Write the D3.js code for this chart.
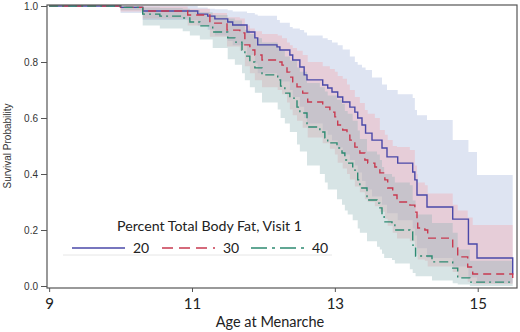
<!DOCTYPE html>
<html>
<head>
<meta charset="utf-8">
<script src="https://cdn.jsdelivr.net/npm/d3@7"></script>
<style>
  body { margin: 0; background: #fff; }
  svg { display: block; }
</style>
</head>
<body>
<div id="chart"></div>
<script>
// Kaplan-Meier style survival curves
const ages20 = [9, 10.0, 10.31, 11.08, 11.22, 11.32, 11.50, 11.57, 11.77, 11.88, 11.92, 12.19, 12.23, 12.37, 12.41, 12.51, 12.57, 12.61, 12.83, 12.90, 12.96, 13.04, 13.11, 13.21, 13.28, 13.32, 13.38, 13.43, 13.52, 13.66, 13.73, 13.88, 14.09, 14.12, 14.15, 14.29, 14.65, 14.87, 14.99, 15.49];
const surv20 = [1.0, 0.995, 0.982, 0.971, 0.964, 0.954, 0.943, 0.932, 0.907, 0.886, 0.861, 0.854, 0.843, 0.825, 0.807, 0.782, 0.754, 0.736, 0.718, 0.707, 0.693, 0.675, 0.657, 0.639, 0.621, 0.60, 0.575, 0.546, 0.521, 0.493, 0.461, 0.439, 0.407, 0.379, 0.325, 0.282, 0.239, 0.15, 0.10, 0.04];
const upper20 = [1.0, 1.0, 1.0, 0.995, 0.99, 0.988, 0.985, 0.98, 0.975, 0.97, 0.965, 0.95, 0.94, 0.925, 0.92, 0.914, 0.905, 0.895, 0.885, 0.879, 0.87, 0.86, 0.845, 0.82, 0.80, 0.79, 0.78, 0.771, 0.745, 0.72, 0.70, 0.685, 0.671, 0.629, 0.61, 0.593, 0.521, 0.479, 0.396, 0.396];
const lower20 = [1.0, 0.975, 0.95, 0.93, 0.915, 0.895, 0.875, 0.86, 0.825, 0.795, 0.76, 0.745, 0.73, 0.70, 0.675, 0.64, 0.60, 0.58, 0.555, 0.54, 0.52, 0.495, 0.47, 0.45, 0.43, 0.405, 0.375, 0.345, 0.32, 0.29, 0.26, 0.235, 0.205, 0.18, 0.135, 0.10, 0.07, 0.03, 0.012, 0.002];

const ages30 = [9, 10.0, 10.31, 10.94, 11.25, 11.49, 11.67, 11.74, 11.81, 11.88, 11.98, 12.20, 12.26, 12.33, 12.37, 12.41, 12.47, 12.55, 12.62, 12.83, 12.93, 13.00, 13.04, 13.11, 13.17, 13.21, 13.28, 13.35, 13.42, 13.46, 13.56, 13.63, 13.70, 13.74, 13.81, 13.87, 14.05, 14.12, 14.15, 14.16, 14.26, 14.30, 14.65, 14.72, 14.86, 14.93, 15.49];
const surv30 = [1.0, 0.995, 0.982, 0.968, 0.939, 0.914, 0.904, 0.861, 0.843, 0.825, 0.807, 0.80, 0.789, 0.764, 0.746, 0.729, 0.711, 0.689, 0.657, 0.639, 0.621, 0.604, 0.575, 0.557, 0.539, 0.521, 0.496, 0.475, 0.45, 0.439, 0.425, 0.404, 0.379, 0.35, 0.325, 0.30, 0.289, 0.264, 0.236, 0.207, 0.20, 0.171, 0.136, 0.104, 0.068, 0.043, 0.029];
const upper30 = [1.0, 1.0, 0.998, 0.99, 0.975, 0.96, 0.955, 0.93, 0.92, 0.91, 0.90, 0.895, 0.885, 0.87, 0.86, 0.85, 0.84, 0.825, 0.80, 0.785, 0.775, 0.765, 0.75, 0.74, 0.72, 0.70, 0.675, 0.654, 0.629, 0.615, 0.60, 0.557, 0.54, 0.521, 0.50, 0.496, 0.486, 0.43, 0.40, 0.37, 0.36, 0.33, 0.29, 0.27, 0.245, 0.218, 0.218];
const lower30 = [1.0, 0.98, 0.955, 0.93, 0.89, 0.855, 0.84, 0.785, 0.76, 0.735, 0.71, 0.70, 0.685, 0.655, 0.63, 0.61, 0.59, 0.565, 0.53, 0.51, 0.49, 0.47, 0.44, 0.42, 0.40, 0.38, 0.355, 0.335, 0.31, 0.30, 0.285, 0.265, 0.24, 0.215, 0.19, 0.17, 0.16, 0.14, 0.115, 0.095, 0.09, 0.07, 0.05, 0.03, 0.015, 0.007, 0.003];

const ages40 = [9, 10.0, 10.31, 10.55, 10.87, 10.97, 11.11, 11.29, 11.50, 11.60, 11.70, 11.74, 11.81, 11.88, 11.98, 12.20, 12.24, 12.30, 12.37, 12.47, 12.51, 12.61, 12.79, 12.86, 12.90, 13.03, 13.10, 13.14, 13.18, 13.25, 13.32, 13.35, 13.45, 13.59, 13.63, 13.66, 13.69, 13.80, 13.84, 14.05, 14.09, 14.13, 14.36, 14.65, 14.72, 14.89, 15.49];
const surv40 = [1.0, 0.995, 0.971, 0.964, 0.957, 0.943, 0.929, 0.907, 0.886, 0.871, 0.843, 0.821, 0.80, 0.779, 0.754, 0.736, 0.714, 0.689, 0.671, 0.639, 0.618, 0.568, 0.55, 0.529, 0.511, 0.493, 0.475, 0.45, 0.439, 0.414, 0.379, 0.35, 0.307, 0.296, 0.279, 0.254, 0.229, 0.218, 0.20, 0.193, 0.146, 0.107, 0.086, 0.064, 0.029, 0.014, 0.014];
const upper40 = [1.0, 1.0, 0.995, 0.993, 0.99, 0.985, 0.978, 0.968, 0.955, 0.948, 0.93, 0.915, 0.90, 0.885, 0.87, 0.855, 0.84, 0.82, 0.805, 0.78, 0.765, 0.725, 0.71, 0.695, 0.68, 0.665, 0.65, 0.625, 0.615, 0.59, 0.555, 0.525, 0.48, 0.47, 0.45, 0.425, 0.40, 0.39, 0.37, 0.36, 0.305, 0.255, 0.225, 0.19, 0.13, 0.09, 0.09];
const lower40 = [1.0, 0.985, 0.93, 0.92, 0.91, 0.895, 0.88, 0.85, 0.81, 0.79, 0.76, 0.735, 0.71, 0.69, 0.655, 0.63, 0.60, 0.58, 0.55, 0.505, 0.48, 0.43, 0.40, 0.37, 0.345, 0.31, 0.29, 0.27, 0.255, 0.235, 0.205, 0.19, 0.16, 0.14, 0.13, 0.115, 0.10, 0.093, 0.08, 0.06, 0.046, 0.035, 0.02, 0.01, 0.005, 0.0, 0.0];

const groupLabels = ["20", "30", "40"];
const xTicks = [9, 11, 13, 15];
const yTicks = [0, 0.2, 0.4, 0.6, 0.8, 1.0];

const width = 520, height = 332;
const margin = {top: 5, right: 3, bottom: 44, left: 47};

const groups = [
  {label: groupLabels[0], ages: ages20, surv: surv20, lo: lower20, hi: upper20,
   line: "#4a48a8", band: "#a1b2da", dash: null, key: "11,6"},
  {label: groupLabels[1], ages: ages30, surv: surv30, lo: lower30, hi: upper30,
   line: "#c83a50", band: "#f5a3a8", dash: "8,5", key: "11,6"},
  {label: groupLabels[2], ages: ages40, surv: surv40, lo: lower40, hi: upper40,
   line: "#2e8a72", band: "#8bb3b4", dash: "9,4,2,4", key: "16,5,3,5"}
];

const svg = d3.select("#chart").append("svg")
  .attr("width", width)
  .attr("height", height);

const x = d3.scaleLinear()
  .domain([8.97, 15.55])
  .range([margin.left, width - margin.right]);

const y = d3.scaleLinear()
  .domain([0, 1])
  .range([286, 6]);

const plotBottom = height - margin.bottom;

// confidence bands
const band = d3.area()
  .curve(d3.curveStepAfter)
  .x(d => x(d.a))
  .y0(d => y(d.lo))
  .y1(d => y(d.hi));

const line = d3.line()
  .curve(d3.curveStepAfter)
  .x(d => x(d.a))
  .y(d => y(d.s));

groups.forEach(g => {
  g.rows = g.ages.map((a, i) => ({a: a, s: g.surv[i], lo: g.lo[i], hi: g.hi[i]}));
});

svg.append("g").selectAll("path.band")
  .data(groups)
  .join("path")
  .attr("class", "band")
  .attr("d", g => band(g.rows))
  .attr("fill", g => g.band)
  .attr("fill-opacity", 0.35)
  .attr("stroke", "none");

svg.append("g").selectAll("path.km")
  .data(groups)
  .join("path")
  .attr("class", "km")
  .attr("d", g => line(g.rows))
  .attr("fill", "none")
  .attr("stroke", g => g.line)
  .attr("stroke-width", 1.4)
  .attr("stroke-dasharray", g => g.dash);

// frame
svg.append("rect")
  .attr("x", margin.left)
  .attr("y", margin.top)
  .attr("width", width - margin.left - margin.right)
  .attr("height", plotBottom - margin.top)
  .attr("fill", "none")
  .attr("stroke", "#555")
  .attr("stroke-width", 1.2);

// axes
const xAxis = svg.append("g")
  .attr("transform", "translate(0," + plotBottom + ")")
  .call(d3.axisBottom(x).tickValues(xTicks).tickSize(4).tickPadding(6).tickFormat(d3.format("d")));
xAxis.select(".domain").remove();
xAxis.selectAll("line").attr("stroke", "#555");
xAxis.selectAll("text")
  .style("font-family", "Lato, 'Open Sans', sans-serif")
  .style("font-size", "15px")
  .style("fill", "#222");

const yAxis = svg.append("g")
  .attr("transform", "translate(" + margin.left + ",0)")
  .call(d3.axisLeft(y).tickValues(yTicks).tickSize(6).tickPadding(3).tickFormat(d3.format(".1f")));
yAxis.select(".domain").remove();
yAxis.selectAll("line").attr("stroke", "#555");
yAxis.selectAll("text")
  .style("font-family", "'Liberation Sans', Arial, sans-serif")
  .style("font-size", "10px")
  .style("fill", "#333");

svg.append("text")
  .attr("x", 270)
  .attr("y", 327)
  .attr("text-anchor", "middle")
  .style("font-family", "Lato, 'Open Sans', sans-serif")
  .style("font-size", "14.5px")
  .style("fill", "#222")
  .text("Age at Menarche");

svg.append("text")
  .attr("transform", "translate(11,146) rotate(-90)")
  .attr("text-anchor", "middle")
  .style("font-family", "'Liberation Sans', Arial, sans-serif")
  .style("font-size", "10px")
  .style("fill", "#333")
  .text("Survival Probability");

// legend
const legend = svg.append("g");

legend.append("line")
  .attr("x1", 63).attr("x2", 332)
  .attr("y1", 255).attr("y2", 255)
  .attr("stroke", "#e6e6e6")
  .attr("stroke-width", 1);

legend.append("text")
  .attr("x", 117)
  .attr("y", 231)
  .style("font-family", "Lato, 'Open Sans', sans-serif")
  .style("font-size", "14.2px")
  .style("fill", "#222")
  .text("Percent Total Body Fat, Visit 1");

const legendX = [72, 162, 251];
const item = legend.selectAll("g.item")
  .data(groups)
  .join("g")
  .attr("class", "item")
  .attr("transform", (g, i) => "translate(" + legendX[i] + ",248)");

item.append("line")
  .attr("x1", 0).attr("x2", 53)
  .attr("stroke", g => g.line)
  .attr("stroke-width", 1.5)
  .attr("stroke-dasharray", g => g.dash ? g.key : null);

item.append("text")
  .attr("x", 61)
  .attr("y", 5)
  .style("font-family", "Lato, 'Open Sans', sans-serif")
  .style("font-size", "14px")
  .style("fill", "#222")
  .text(g => g.label);
</script>
</body>
</html>
